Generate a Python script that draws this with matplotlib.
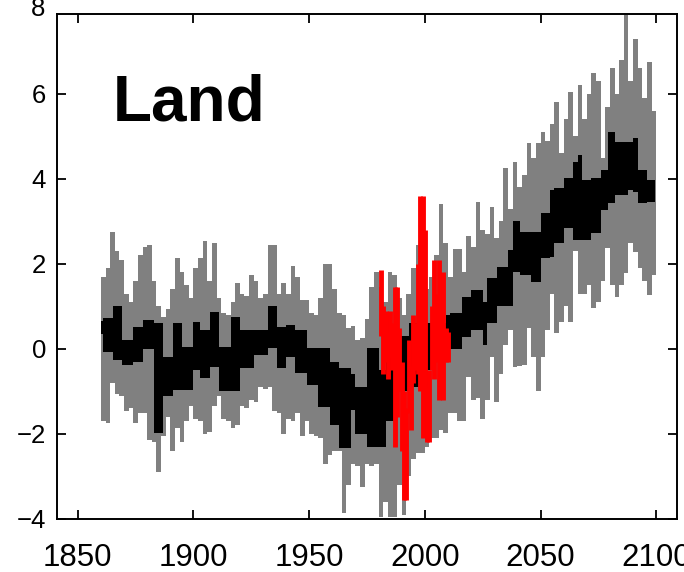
import numpy as np
import matplotlib.pyplot as plt

# model spread, 2-year bins 1860-2099 (upper / lower envelope, deg C)
years = np.arange(1860, 2100, 2)
spread_hi = [1.7, 1.9, 2.75, 2.3, 2.1, 1.3, 1.1, 1.6, 2.2, 2.4,
             2.45, 1.6, 1.0, 0.75, 0.95, 1.4, 2.15, 1.8, 1.5, 1.2,
             1.9, 2.15, 2.55, 1.6, 2.5, 1.2, 0.85, 0.8, 1.1, 1.55,
             1.3, 1.25, 1.75, 1.6, 1.2, 1.3, 2.45, 2.45, 1.3, 1.55,
             1.3, 1.95, 1.7, 1.15, 1.15, 0.85, 0.8, 1.2, 2.0, 2.0,
             1.4, 0.85, 0.8, 0.5, 0.55, 0.2, 0.25, 0.7, 1.45, 1.8,
             1.45, 1.1, 1.8, 1.75, 1.2, 0.8, 1.3, 1.9, 2.45, 1.6,
             1.4, 1.7, 2.2, 3.4, 2.5, 1.7, 2.35, 2.35, 1.8, 2.65,
             2.4, 3.45, 2.8, 2.7, 3.35, 2.6, 3.0, 4.25, 3.3, 4.4,
             3.8, 4.1, 4.85, 4.5, 4.85, 5.1, 4.9, 5.3, 5.8, 4.6,
             5.4, 6.05, 5.0, 6.2, 5.4, 6.0, 6.5, 6.3, 4.5, 5.7,
             6.6, 6.0, 6.8, 7.85, 6.3, 7.3, 6.6, 5.9, 6.75, 5.6]
spread_lo = [-1.7, -1.75, -0.8, -1.05, -1.1, -1.45, -1.4, -1.75, -1.5, -1.5,
             -2.15, -2.2, -2.9, -2.05, -1.6, -2.4, -1.85, -2.2, -1.7, -1.35,
             -1.65, -1.7, -2.0, -1.95, -1.35, -1.1, -1.65, -1.7, -1.85, -1.8,
             -1.35, -1.4, -1.2, -1.25, -0.9, -0.95, -0.9, -1.45, -1.5, -2.0,
             -1.65, -1.7, -1.5, -2.05, -1.7, -2.0, -2.05, -2.1, -2.7, -2.5,
             -2.4, -2.4, -3.85, -3.2, -2.7, -2.75, -3.25, -2.7, -2.75, -2.7,
             -3.95, -3.6, -3.95, -3.95, -3.2, -3.9, -3.0, -2.6, -2.45, -2.45,
             -2.3, -2.1, -2.1, -1.9, -1.98, -1.5, -1.5, -1.7, -1.7, -0.65,
             -1.2, -1.15, -1.65, -1.2, -0.2, -1.25, -0.6, 0.1, 0.45, -0.42,
             -0.4, -0.38, 0.5, -0.2, -1.0, -0.2, 0.45, 1.3, 0.38, 0.64,
             1.0, 0.64, 2.3, 1.3, 1.3, 1.5, 0.96, 1.1, 1.6, 2.37,
             1.5, 1.22, 1.5, 1.78, 2.5, 2.28, 1.9, 1.6, 1.27, 1.75]

# ensemble-mean band, piecewise over periods starting at mean_start
mean_start = [1860, 1861, 1865, 1869, 1874, 1878, 1883, 1887, 1891, 1895,
              1900, 1903, 1907, 1911, 1916, 1920, 1926, 1932, 1936, 1940,
              1944, 1949, 1954, 1959, 1963, 1968, 1970, 1975, 1980, 1983,
              1988, 1993, 1998, 2004, 2009, 2011, 2016, 2020, 2025, 2027,
              2031, 2036, 2038, 2041, 2046, 2050, 2054, 2056, 2060, 2064,
              2066, 2068, 2072, 2076, 2079, 2082, 2088, 2090, 2092, 2096]
mean_lo = [0.35, -0.07, -0.26, -0.38, -0.3, 0.0, -1.98, -1.1, -0.97, -0.97,
           -0.5, -0.68, -0.42, -1.0, -1.0, -0.45, -0.14, 0.03, -0.45, -0.2,
           -0.57, -0.85, -1.36, -1.8, -2.33, -1.44, -2.0, -2.3, -2.3, -1.7,
           -1.0, -0.9, -0.5, -0.3, -0.1, 0.0, 0.28, 0.45, 0.1, 0.6,
           1.0, 1.0, 1.8, 1.75, 1.58, 2.14, 2.16, 2.49, 2.85, 2.56,
           2.56, 2.56, 2.73, 3.27, 3.43, 3.62, 3.74, 3.7, 3.43, 3.46]
mean_hi = [0.65, 0.73, 1.0, 0.2, 0.52, 0.68, 0.6, -0.2, 0.6, 0.05,
           0.64, 0.45, 0.87, 0.05, 0.75, 0.45, 0.45, 1.0, 0.52, 0.56,
           0.45, 0.02, 0.02, -0.3, -0.45, -0.6, -0.9, 0.02, -0.5, -0.2,
           0.3, 0.6, 0.6, 0.6, 0.8, 0.85, 1.22, 1.38, 1.1, 1.67,
           1.93, 2.33, 3.0, 2.75, 2.75, 3.2, 3.74, 3.79, 4.02, 4.4,
           4.56, 3.98, 4.02, 4.2, 5.1, 4.87, 4.87, 4.96, 4.2, 3.98]
mean_end = 2099.5

# observed annual range 1981-2010
obs_years = np.arange(1981, 2011)
obs_lo = [0.3, -0.6, -0.3, -0.7, -0.2, -0.5, -2.3, -1.6, -1.0, -2.4,
          -3.55, -3.55, -1.5, -1.9, -0.8, -0.5, -0.6, -1.0, -2.1, -1.2,
          -2.2, -2.2, -0.5, -0.7, -0.3, -1.2, -1.0, -1.2, -0.3, -0.3]
obs_hi = [1.85, 1.0, 0.9, 0.4, 0.9, 0.6, 1.45, 1.45, 0.5, -0.3,
          -1.0, -1.4, 0.2, -0.4, 0.8, 0.6, 2.0, 3.6, 3.6, 2.8,
          -0.9, -0.5, 1.0, 2.1, 1.3, 2.1, 0.6, 1.8, 0.5, 0.4]

x_ticks = [1850, 1900, 1950, 2000, 2050, 2100]
y_ticks = [-4, -2, 0, 2, 4, 6]

plt.rcParams['font.family'] = ['Liberation Sans', 'DejaVu Sans']

fig = plt.figure(figsize=(6.84, 5.72), dpi=100)
ax = fig.add_axes([57 / 684, 53 / 572, 620 / 684, 505 / 572])

# gray spread
ax.fill_between(np.append(years, 2100), np.append(spread_lo, spread_lo[-1]),
                np.append(spread_hi, spread_hi[-1]), step='post',
                color='#808080', lw=0)

# black mean band
ax.fill_between(np.append(mean_start, mean_end), np.append(mean_lo, mean_lo[-1]),
                np.append(mean_hi, mean_hi[-1]), step='post',
                color='black', lw=0)

# red observations
ax.vlines(obs_years, obs_lo, obs_hi, colors='#ff0000', linewidth=3.5)

ax.set_xlim(1841, 2109)
ax.set_ylim(-4, 7.88)
ax.set_xticks(x_ticks)
ax.set_yticks(y_ticks)

ax.tick_params(direction='in', length=6.5, width=1.3, top=True, right=True)
ax.tick_params(axis='x', labelsize=22.5, pad=17)
ax.tick_params(axis='y', labelsize=18.5, pad=8)
for s in ax.spines.values():
    s.set_linewidth(1.4)

# top "8" label sits just above the axis frame
ax.text(-0.0194, 8, '8', transform=ax.get_yaxis_transform(), ha='right',
        va='center', fontsize=18.5, clip_on=False)

ax.text(0.0903, 0.79, 'Land', transform=ax.transAxes, fontsize=46,
        fontweight='bold', va='baseline', ha='left')

fig.savefig('out.png', dpi=100)
